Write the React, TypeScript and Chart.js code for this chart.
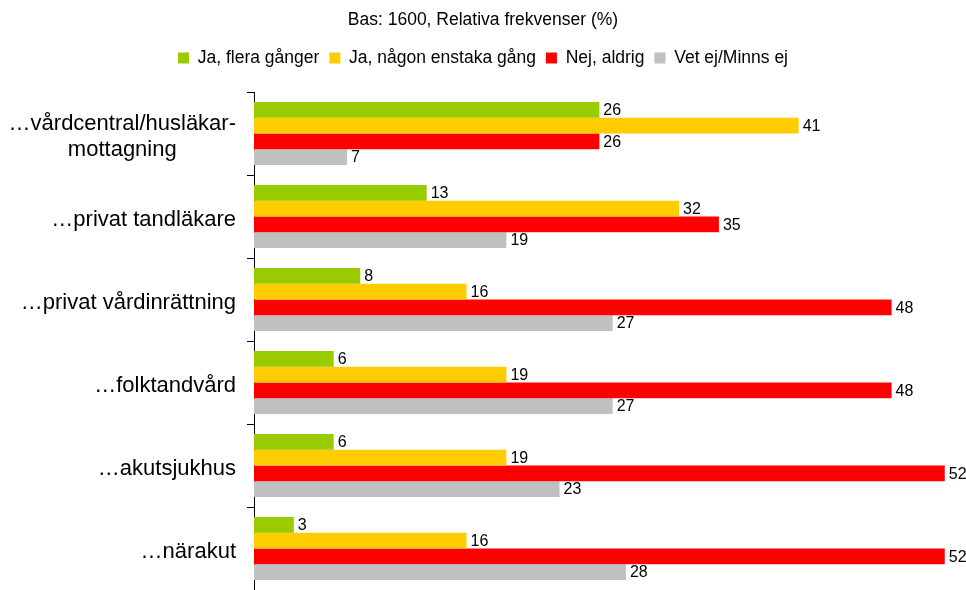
import React, { useEffect, useRef } from "react";
import { Chart, registerables } from "chart.js";

Chart.register(...registerables);

const categories: string[][] = [
  ["…vårdcentral/husläkar-", "mottagning"],
  ["…privat tandläkare"],
  ["…privat vårdinrättning"],
  ["…folktandvård"],
  ["…akutsjukhus"],
  ["…närakut"],
];

const seriesNames = ["Ja, flera gånger", "Ja, någon enstaka gång", "Nej, aldrig", "Vet ej/Minns ej"];
const jaFlera = [26, 13, 8, 6, 6, 3];
const jaNagon = [41, 32, 16, 19, 19, 16];
const nejAldrig = [26, 35, 48, 48, 52, 52];
const vetEj = [7, 19, 27, 27, 23, 28];
const colors = ["#99CC00", "#FFCC00", "#FF0000", "#C0C0C0"];
const xMax = 53.6;

const FONT = "'Liberation Sans', Arial, sans-serif";

const valueLabels = {
  id: "valueLabels",
  afterDatasetsDraw(chart: any) {
    const ctx = chart.ctx;
    ctx.save();
    ctx.font = `16px ${FONT}`;
    ctx.fillStyle = "#000";
    ctx.textAlign = "left";
    ctx.textBaseline = "middle";
    chart.data.datasets.forEach((ds: any, i: number) => {
      const meta = chart.getDatasetMeta(i);
      meta.data.forEach((el: any, j: number) => {
        ctx.fillText(String(ds.data[j]), el.x + 4, el.y + 1);
      });
    });
    ctx.restore();
  },
};

const catLabels = {
  id: "catLabels",
  afterDraw(chart: any) {
    const ctx = chart.ctx;
    const y = chart.scales.y;
    ctx.save();
    ctx.font = `22px ${FONT}`;
    ctx.fillStyle = "#000";
    ctx.textAlign = "center";
    ctx.textBaseline = "middle";
    const right = 236;
    const lh = 26;
    categories.forEach((lines, i) => {
      const cy = y.getPixelForValue(i) + 3;
      const w = Math.max(...lines.map((l) => ctx.measureText(l).width));
      const cx = right - w / 2;
      const start = cy - ((lines.length - 1) * lh) / 2;
      lines.forEach((l, k) => ctx.fillText(l, cx, start + k * lh));
    });
    ctx.restore();
  },
};

export default function App() {
  const ref = useRef<HTMLCanvasElement>(null);
  useEffect(() => {
    if (!ref.current) return;
    Chart.defaults.font.family = FONT;
    const data = [jaFlera, jaNagon, nejAldrig, vetEj];
    const chart = new Chart(ref.current, {
      type: "bar",
      data: {
        labels: categories.map((c) => c.join(" ")),
        datasets: seriesNames.map((name, i) => ({
          label: name,
          data: data[i],
          backgroundColor: colors[i],
          borderWidth: 0,
          categoryPercentage: 0.757,
          barPercentage: 1,
        })),
      },
      options: {
        indexAxis: "y",
        responsive: false,
        animation: false,
        layout: { padding: { left: 0, right: 0, top: 0, bottom: 0 } },
        plugins: {
          title: {
            display: true,
            text: "Bas: 1600, Relativa frekvenser (%)",
            color: "#000",
            font: { size: 17.5, weight: "normal", family: FONT },
            padding: { top: 9.5, bottom: 8.75 },
          },
          legend: {
            display: true,
            labels: {
              boxWidth: 11,
              boxHeight: 11,
              color: "#000",
              padding: 10,
              font: { size: 17.5, family: FONT },
            },
          },
          tooltip: { enabled: false },
        },
        scales: {
          x: {
            position: "top",
            min: 0,
            max: xMax,
            display: true,
            ticks: { display: false },
            grid: { display: false },
            border: { display: false },
            afterFit: (s: any) => {
              s.height = 15.25;
            },
          },
          y: {
            ticks: { display: false },
            grid: { display: true, drawOnChartArea: false, drawTicks: true, tickLength: 7, color: "#000", offset: true },
            border: { display: true, color: "#000", width: 1 },
            afterFit: (s: any) => {
              s.width = 254;
            },
          },
        },
      },
      plugins: [valueLabels, catLabels],
    });
    return () => chart.destroy();
  }, []);
  return (
    <div style={{ position: "fixed", left: 0, top: 0, width: 966, height: 590, background: "#fff" }}>
      <canvas ref={ref} width={966} height={590} style={{ display: "block" }} />
    </div>
  );
}
